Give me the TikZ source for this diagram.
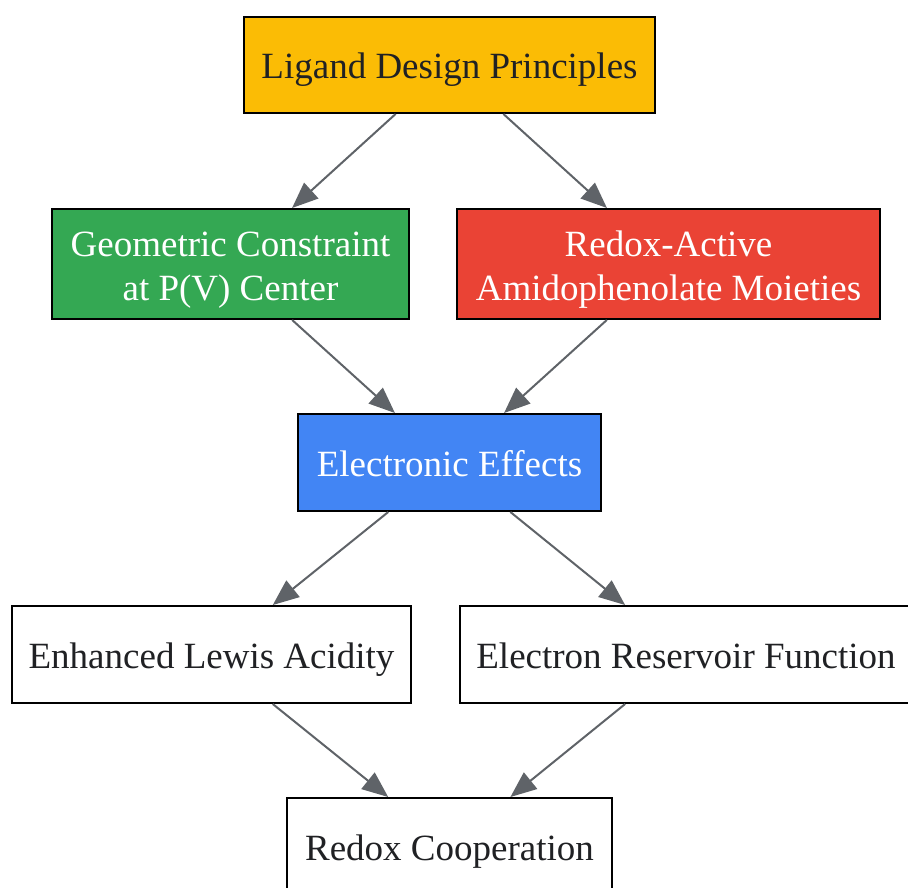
\documentclass[tikz,border=0pt]{standalone}
\usepackage{fontspec}
\setmainfont{Liberation Serif}
\usetikzlibrary{arrows.meta}
\definecolor{gold}{HTML}{FBBC05}
\definecolor{ggreen}{HTML}{34A853}
\definecolor{gred}{HTML}{EA4335}
\definecolor{gblue}{HTML}{4285F4}
\definecolor{edgegray}{HTML}{5F6368}
\definecolor{inkdark}{HTML}{202124}
\tikzset{
  box/.style={draw=black,line width=2pt,inner sep=0pt,align=center,
    text=inkdark,font=\fontsize{37}{44}\selectfont,text height=30pt,text depth=2pt},
  twoline/.style={text height=74pt,text depth=2pt},
  link/.style={draw=edgegray,line width=2pt,-{Triangle[length=26pt,width=21pt]}}
}
\begin{document}
\begin{tikzpicture}[x=1pt,y=-1pt]
      \useasboundingbox (0,0) rectangle (908,888);
      \node[box,fill=gold,minimum width=411pt,minimum height=96pt] (ligand) at (449.5,65) {Ligand Design Principles};
      \node[box,twoline,fill=ggreen,text=white,minimum width=357pt,minimum height=110pt] (geom) at (230.5,264) {Geometric Constraint\\at P(V) Center};
      \node[box,twoline,fill=gred,text=white,minimum width=423pt,minimum height=110pt] (redox) at (668.5,264) {Redox-Active\\Amidophenolate Moieties};
      \node[box,fill=gblue,text=white,minimum width=303pt,minimum height=97pt] (elec) at (449.5,462.5) {Electronic Effects};
      \node[box,fill=white,minimum width=399pt,minimum height=97pt] (lewis) at (211.5,654.5) {Enhanced Lewis Acidity};
      \node[box,fill=white,minimum width=452pt,minimum height=97pt] (reserv) at (686,654.5) {Electron Reservoir Function};
      \node[box,fill=white,minimum width=325pt,minimum height=97pt] (coop) at (449.5,846.5) {Redox Cooperation};
      \draw[link] (ligand) -- (geom);
      \draw[link] (ligand) -- (redox);
      \draw[link] (geom) -- (elec);
      \draw[link] (redox) -- (elec);
      \draw[link] (elec) -- (lewis);
      \draw[link] (elec) -- (reserv);
      \draw[link] (lewis) -- (coop);
      \draw[link] (reserv) -- (coop);
    \end{tikzpicture}
\end{document}
